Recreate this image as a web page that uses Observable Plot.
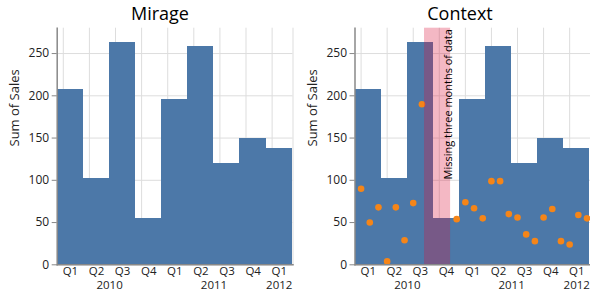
<!DOCTYPE html>
<html>
<head>
<meta charset="utf-8">
<script src="https://cdn.jsdelivr.net/npm/d3@7"></script>
<script src="https://cdn.jsdelivr.net/npm/@observablehq/plot@0.6"></script>
<style>
  body { margin: 0; background: #fff; }
  #wrap { position: relative; width: 590px; height: 297px; overflow: hidden; font-family: "Open Sans", sans-serif; }
  .panel { position: absolute; top: 0; width: 295px; height: 297px; }
  .title { position: absolute; top: 1px; font-size: 18px; color: #000; transform: translateX(-50%); white-space: nowrap; line-height: 24px; z-index: 2; }
</style>
</head>
<body>
<div id="wrap">
  <div class="panel" id="left"></div>
  <div class="panel" id="right" style="left:295px"></div>
  <div class="title" style="left:160px">Mirage</div>
  <div class="title" style="left:460px">Context</div>
</div>
<script>
// Quarterly totals (bars)
const quarters = ["2010-Q1","2010-Q2","2010-Q3","2010-Q4","2011-Q1","2011-Q2","2011-Q3","2011-Q4","2012-Q1"];
const quarterSales = [208, 102, 263, 55, 196, 258, 120, 150, 138];
// Monthly values (dots), Sep–Nov 2010 missing
const months = ["2010-01","2010-02","2010-03","2010-04","2010-05","2010-06","2010-07","2010-08","2010-12",
                "2011-01","2011-02","2011-03","2011-04","2011-05","2011-06","2011-07","2011-08","2011-09","2011-10","2011-11","2011-12",
                "2012-01","2012-02","2012-03"];
const monthlySales = [90, 50, 68, 4, 68, 29, 73, 190, 54, 74, 67, 55, 99, 99, 60, 56, 36, 28, 56, 66, 28, 24, 59, 55];
const missingMonths = ["2010-09","2010-10","2010-11"];
const annotation = "Missing three months of data";
const yTicks = [0, 50, 100, 150, 200, 250];

const BLUE = "#4c78a8", ORANGE = "#f58518";
const SHIFT = 0.7; // rect offset (months) seen in the reference
const FONT = "'Open Sans', sans-serif";

const mIdx = s => { const [y, m] = s.split("-").map(Number); return (y - 2010) * 12 + (m - 1); };
const qIdx = s => { const [y, q] = s.split("-Q"); return (Number(y) - 2010) * 12 + (Number(q) - 1) * 3; };

const qData = quarters.map((q, i) => ({q, start: qIdx(q), year: q.split("-")[0], label: "Q" + q.split("-Q")[1], value: quarterSales[i]}));
const mData = months.map((m, i) => ({m: mIdx(m), value: monthlySales[i]}));
const LABEL_OFF = 0.82;
const yearData = Array.from(d3.group(qData, d => d.year), ([year, qs]) => ({year, x: d3.mean(qs, d => d.start + LABEL_OFF)}));
const band = [{x1: mIdx(missingMonths[0]), x2: mIdx(missingMonths[missingMonths.length - 1]) + 1}];

function chart({marginLeft, marginRight, context}) {
  const marks = [
    Plot.gridY(yTicks, {stroke: "#ddd", strokeOpacity: 1}),
    Plot.gridX(qData, {x: "start", stroke: "#ddd", strokeOpacity: 1}),
    Plot.frame({anchor: "right", stroke: "#ddd"}),
    Plot.rect(qData, {x1: d => d.start - SHIFT, x2: d => d.start + 3 - SHIFT, y1: 0, y2: "value", fill: BLUE, shapeRendering: "crispEdges"})
  ];
  if (context) {
    marks.push(
      Plot.dot(mData, {x: "m", y: "value", r: 3.3, fill: ORANGE}),
      Plot.rect(band, {x1: d => d.x1 - SHIFT, x2: d => d.x2 - SHIFT, fill: "crimson", fillOpacity: 0.3}),
      Plot.text([annotation], {x: band[0].x2 - SHIFT, frameAnchor: "top", rotate: -90, textAnchor: "end", text: d => d, dx: -6, dy: 1, fontSize: 11, fill: "#000"})
    );
  }
  marks.push(
    Plot.frame({anchor: "left", stroke: "#888", strokeWidth: 1.5}),
    Plot.frame({anchor: "bottom", stroke: "#888", strokeWidth: 1.5}),
    Plot.axisY(yTicks, {tickSize: 5, tickPadding: 3, stroke: "#888", fontSize: 12, fill: "#222", label: null}),
    Plot.text(["Sum of Sales"], {frameAnchor: "left", rotate: -90, dx: -42, fontSize: 13, fill: "#222", text: d => d}),
    Plot.text(qData, {x: d => d.start + LABEL_OFF, frameAnchor: "bottom", dy: 10.5, text: "label", fontSize: 11.5, fill: "#222"}),
    Plot.text(yearData, {x: "x", frameAnchor: "bottom", dy: 24.3, text: "year", fontSize: 11.5, fill: "#222"})
  );
  return Plot.plot({
    width: 295, height: 297,
    marginLeft, marginRight, marginTop: 27.7, marginBottom: 32.7,
    style: {fontFamily: FONT, background: "transparent", overflow: "visible"},
    x: {domain: [-SHIFT, 26.4], axis: null},
    y: {domain: [0, 280], axis: null},
    marks
  });
}

document.getElementById("left").appendChild(chart({marginLeft: 56.7, marginRight: 2.5, context: false}));
document.getElementById("right").appendChild(chart({marginLeft: 59.5, marginRight: 0, context: true}));
</script>
</body>
</html>
